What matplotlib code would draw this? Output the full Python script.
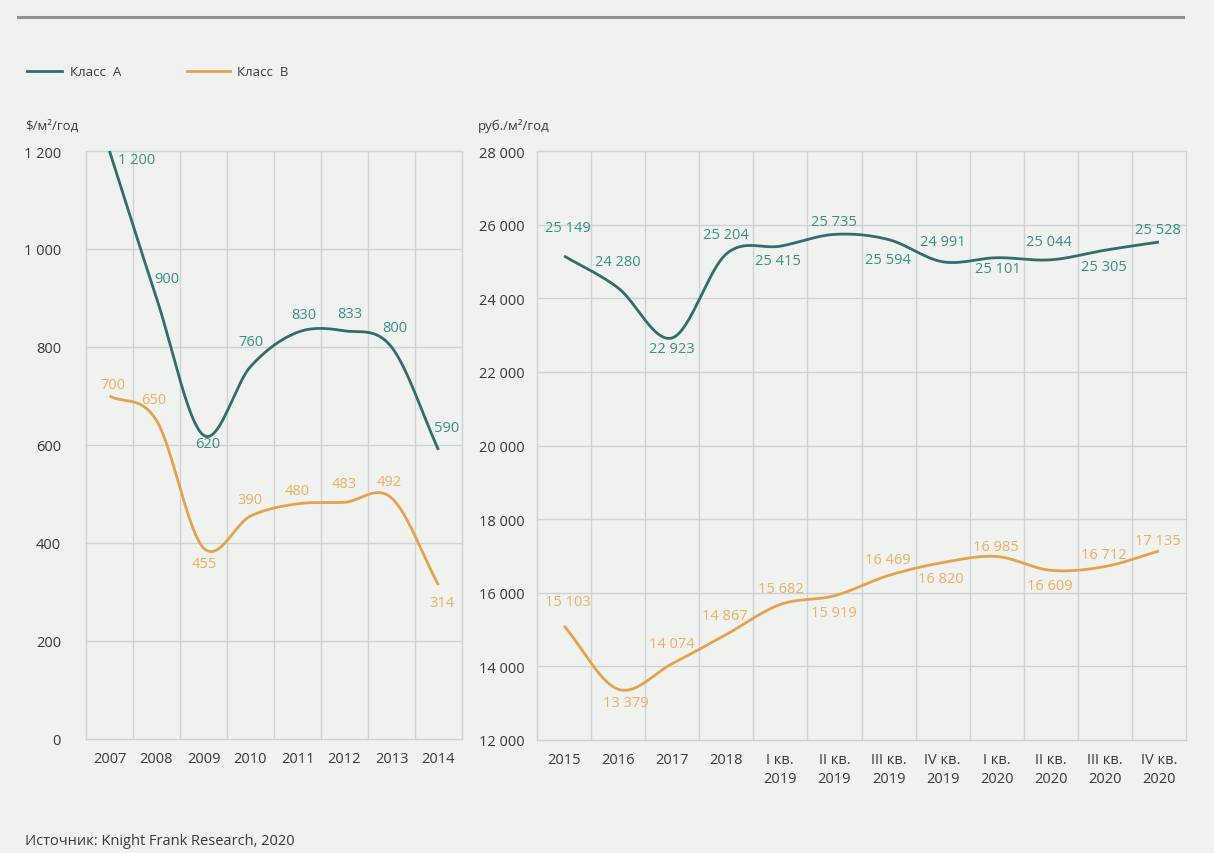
import numpy as np
import matplotlib
matplotlib.use("Agg")
import matplotlib.pyplot as plt
from matplotlib.lines import Line2D

plt.rcParams['font.family'] = ['Open Sans', 'DejaVu Sans']

# ---------------- data ----------------
years_left = ["2007", "2008", "2009", "2010", "2011", "2012", "2013", "2014"]
class_a_left = [1200, 900, 620, 760, 830, 833, 800, 590]
class_b_left = [700, 650, 390, 455, 480, 483, 492, 314]
class_a_left_labels = ["1 200", "900", "620", "760", "830", "833", "800", "590"]
class_b_left_labels = ["700", "650", "455", "390", "480", "483", "492", "314"]

periods_right = ["2015", "2016", "2017", "2018",
                 "I кв.\n2019", "II кв.\n2019", "III кв.\n2019", "IV кв.\n2019",
                 "I кв.\n2020", "II кв.\n2020", "III кв.\n2020", "IV кв.\n2020"]
class_a_right = [25149, 24280, 22923, 25204, 25415, 25735, 25594, 24991,
                 25101, 25044, 25305, 25528]
class_b_right = [15103, 13379, 14074, 14867, 15682, 15919, 16469, 16820,
                 16985, 16609, 16712, 17135]

left_yticks = [0, 200, 400, 600, 800, 1000, 1200]
right_yticks = [12000, 14000, 16000, 18000, 20000, 22000, 24000, 26000, 28000]

# label offsets (pixels) – positions only
a_left_off = [(27, -8), (10, 19), (4, -8), (0, 25), (6, 18), (5, 17), (3, 19), (8, 22)]
b_left_off = [(3, 11), (-3, 21), (1, -16), (-1, 17), (0, 13), (0, 19), (-2, 16), (3, -17)]
a_right_off = [(4, 28), (0, 26), (0, -11), (0, 19), (-2, -14), (-1, 13), (-1, -20),
               (0, 20), (1, -11), (-2, 18), (-1, -16), (-1, 13)]
b_right_off = [(4, 24), (8, -13), (0, 20), (-1, 19), (0, 16), (-1, -17), (-1, 16),
               (-2, -16), (-1, 10), (-1, -15), (-1, 12), (-1, 10)]

BG = "#eff2ee"
GRID = "#cfd3d5"
TEAL = "#306e6c"
TEAL_T = "#3a8f8a"
ORANGE = "#e4a24e"
ORANGE_T = "#eeb060"
TXT = "#3a3a3a"


def fmt(v):
    return f"{v:,}".replace(",", " ")


def catmull(xv, yv, n=40):
    x = np.asarray(xv, float)
    y = np.asarray(yv, float)
    m = len(x)
    t = np.zeros(m)
    t[1:-1] = (y[2:] - y[:-2]) / 2.0
    t[0] = (y[1] - y[0])
    t[-1] = (y[-1] - y[-2])
    xs, ys = [], []
    for i in range(m - 1):
        s = np.linspace(0, 1, n, endpoint=(i == m - 2))
        h00 = 2 * s**3 - 3 * s**2 + 1
        h10 = s**3 - 2 * s**2 + s
        h01 = -2 * s**3 + 3 * s**2
        h11 = s**3 - s**2
        xs.append(x[i] + s * (x[i + 1] - x[i]))
        ys.append(h00 * y[i] + h10 * t[i] + h01 * y[i + 1] + h11 * t[i + 1])
    return np.concatenate(xs), np.concatenate(ys)


W, H = 1214, 854
fig = plt.figure(figsize=(W / 100, H / 100), dpi=100, facecolor=BG)


def setup(ax, cats, yticks, ylabels):
    n = len(cats)
    ax.set_facecolor(BG)
    ax.set_xlim(-0.5, n - 0.5)
    ax.set_ylim(yticks[0], yticks[-1])
    for sp in ax.spines.values():
        sp.set_visible(False)
    for b in np.arange(-0.5, n, 1.0):
        ax.axvline(b, color=GRID, lw=1.0, zorder=0, clip_on=False)
    for yt in yticks:
        ax.axhline(yt, color=GRID, lw=1.0, zorder=0, clip_on=False)
    ax.set_xticks(range(n))
    ax.set_xticklabels(cats, fontsize=10.5, color=TXT, linespacing=1.35)
    ax.set_yticks(yticks)
    ax.set_yticklabels(ylabels, fontsize=10.5, color=TXT)
    ax.tick_params(length=0)


def draw(ax, vals, labels, offs, lc, tc):
    xs, ys = catmull(range(len(vals)), vals)
    ax.plot(xs, ys, color=lc, lw=2.0, zorder=3, solid_capstyle='butt', clip_on=False)
    for i, (v, lab, o) in enumerate(zip(vals, labels, offs)):
        ax.annotate(lab, (i, v), xytext=o, textcoords='offset pixels',
                    ha='center', va='center', fontsize=10.5, color=tc, zorder=4)


axL = fig.add_axes([86 / W, 1 - 740 / H, 376 / W, 588 / H])
setup(axL, years_left, left_yticks, [fmt(v) for v in left_yticks])
axL.tick_params(axis='y', pad=18)
axL.tick_params(axis='x', pad=9)
draw(axL, class_a_left, class_a_left_labels, a_left_off, TEAL, TEAL_T)
draw(axL, class_b_left, class_b_left_labels, b_left_off, ORANGE, ORANGE_T)

axR = fig.add_axes([537 / W, 1 - 741 / H, 649 / W, 589 / H])
setup(axR, periods_right, right_yticks, [fmt(v) for v in right_yticks])
axR.tick_params(axis='y', pad=9)
axR.tick_params(axis='x', pad=9)
draw(axR, class_a_right, [fmt(v) for v in class_a_right], a_right_off, TEAL, TEAL_T)
draw(axR, class_b_right, [fmt(v) for v in class_b_right], b_right_off, ORANGE, ORANGE_T)

# top rule
fig.add_artist(Line2D([18 / W, 1183 / W], [1 - 18 / H, 1 - 18 / H], color="#8e9391", lw=2.2))

# legend
ly = 1 - 72 / H
fig.add_artist(Line2D([27 / W, 62 / W], [ly, ly], color=TEAL, lw=2.0))
fig.text(70 / W, ly, "Класс  А", fontsize=9.5, color=TXT, va='center', ha='left')
fig.add_artist(Line2D([187 / W, 230 / W], [ly, ly], color=ORANGE, lw=2.0))
fig.text(237 / W, ly, "Класс  В", fontsize=9.5, color=TXT, va='center', ha='left')

# unit labels
fig.text(25 / W, 1 - 126 / H, "$/м²/год", fontsize=9.5, color=TXT, va='center', ha='left')
fig.text(478 / W, 1 - 126 / H, "руб./м²/год", fontsize=9.5, color=TXT, va='center', ha='left')

# source
fig.text(25 / W, 1 - 842 / H, "Источник: Knight Frank Research, 2020", fontsize=10.5,
         color=TXT, va='center', ha='left')

fig.savefig("out.png", dpi=100, facecolor=BG)
